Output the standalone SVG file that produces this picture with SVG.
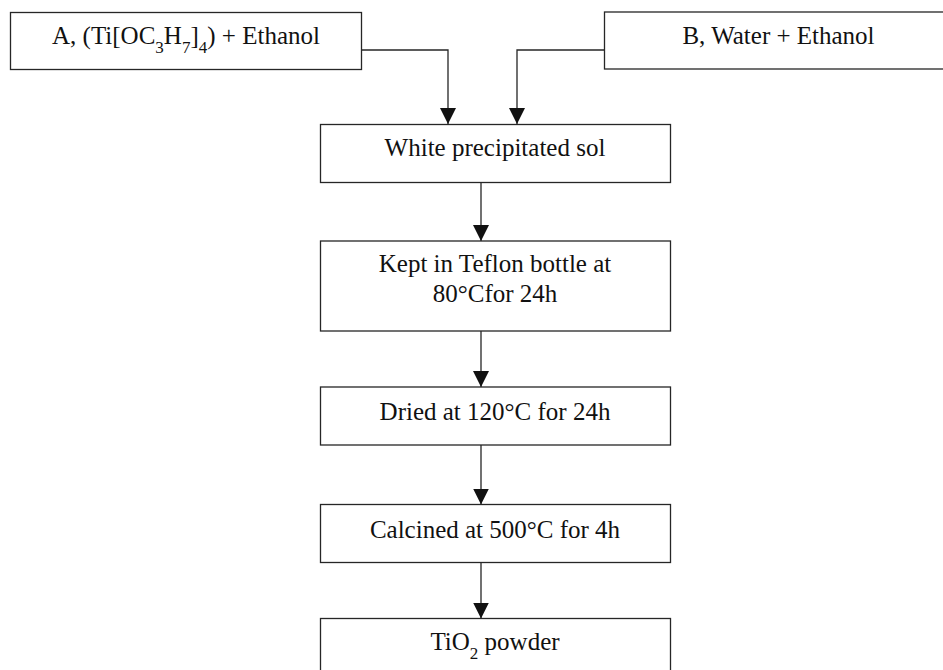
<svg xmlns="http://www.w3.org/2000/svg" width="943" height="670" viewBox="0 0 943 670">
<defs>
<style>
.box{fill:#fff;stroke:#262626;stroke-width:1.3}
.lbl{font-family:"Liberation Serif","Times New Roman",serif;font-size:25px;fill:#111;text-anchor:middle}
.sub{font-size:17px}
.con{fill:none;stroke:#262626;stroke-width:1.3}
</style>
<marker id="ah" markerUnits="userSpaceOnUse" markerWidth="16" markerHeight="16" refX="16" refY="8" orient="auto" viewBox="0 0 16 16">
<path d="M0,0 L16,8 L0,16 z" fill="#111"/>
</marker>
</defs>
<rect width="943" height="670" fill="#fff"/>
<g id="connectors">
<path class="con" d="M361.5,50 H448 V124" marker-end="url(#ah)"/>
<path class="con" d="M604.5,50 H517 V124" marker-end="url(#ah)"/>
<path class="con" d="M481,182.5 V241" marker-end="url(#ah)"/>
<path class="con" d="M481,331 V387" marker-end="url(#ah)"/>
<path class="con" d="M481,445 V504.5" marker-end="url(#ah)"/>
<path class="con" d="M481,562.5 V618.5" marker-end="url(#ah)"/>
</g>
<g id="nodeA">
<rect class="box" x="10.5" y="12.5" width="351" height="57"/>
<text class="lbl" x="186" y="44">A, (Ti[OC<tspan class="sub" dy="9">3</tspan><tspan dy="-9">H</tspan><tspan class="sub" dy="9">7</tspan><tspan dy="-9">]</tspan><tspan class="sub" dy="9">4</tspan><tspan dy="-9">) + Ethanol</tspan></text>
</g>
<g id="nodeB">
<rect class="box" x="604.5" y="12" width="360" height="57"/>
<text class="lbl" x="778.5" y="43.5">B, Water + Ethanol</text>
</g>
<g id="nodeSol">
<rect class="box" x="320.5" y="124.5" width="350" height="58"/>
<text class="lbl" x="495" y="156">White precipitated sol</text>
</g>
<g id="nodeTeflon">
<rect class="box" x="320.5" y="241" width="350" height="90"/>
<text class="lbl" x="495" y="272">Kept in Teflon bottle at</text>
<text class="lbl" x="495" y="302">80°Cfor 24h</text>
</g>
<g id="nodeDried">
<rect class="box" x="320.5" y="387" width="350" height="58"/>
<text class="lbl" x="495" y="420">Dried at 120°C for 24h</text>
</g>
<g id="nodeCalcined">
<rect class="box" x="320.5" y="504.5" width="350" height="58"/>
<text class="lbl" x="495" y="538">Calcined at 500°C for 4h</text>
</g>
<g id="nodeTiO2">
<rect class="box" x="320.5" y="618.5" width="350" height="80"/>
<text class="lbl" x="495" y="650">TiO<tspan class="sub" dy="9">2</tspan><tspan dy="-9"> powder</tspan></text>
</g>
</svg>
